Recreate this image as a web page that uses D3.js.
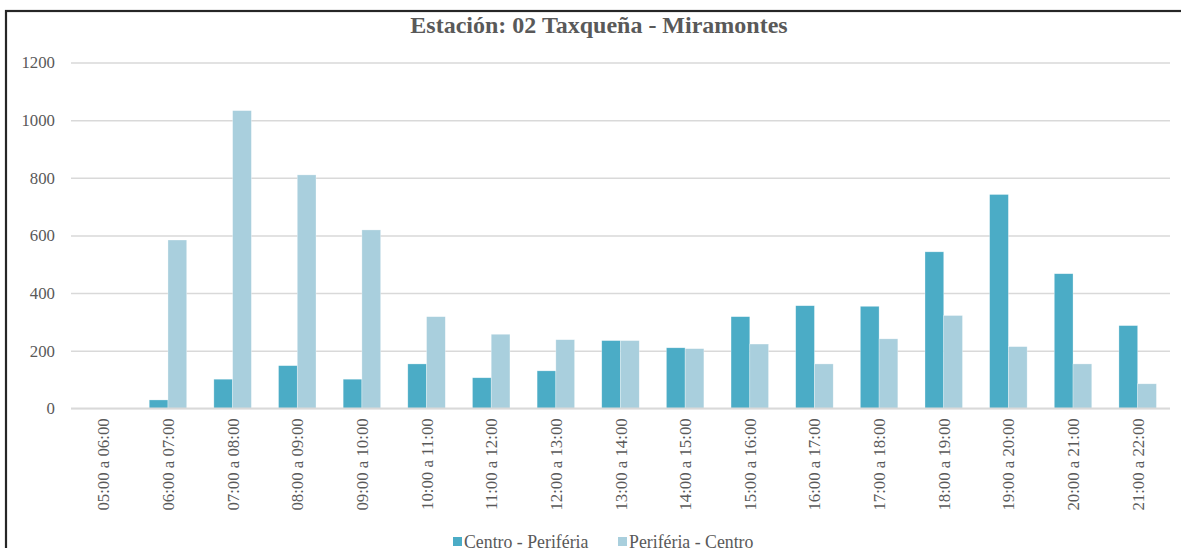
<!DOCTYPE html>
<html>
<head>
<meta charset="utf-8">
<script src="https://cdn.jsdelivr.net/npm/d3@7"></script>
<style>
  html, body { margin: 0; padding: 0; background: #fff; }
  svg { display: block; }
</style>
</head>
<body>
<svg id="chart" width="1181" height="548"></svg>
<script>
const categories = ["05:00 a 06:00","06:00 a 07:00","07:00 a 08:00","08:00 a 09:00","09:00 a 10:00","10:00 a 11:00","11:00 a 12:00","12:00 a 13:00","13:00 a 14:00","14:00 a 15:00","15:00 a 16:00","16:00 a 17:00","17:00 a 18:00","18:00 a 19:00","19:00 a 20:00","20:00 a 21:00","21:00 a 22:00"];
const centroPeriferia = [0, 29, 101, 148, 101, 154, 106, 130, 235, 210, 318, 356, 354, 543, 742, 467, 287];
const periferiaCentro = [0, 584, 1033, 810, 619, 318, 257, 238, 235, 207, 223, 154, 241, 322, 214, 154, 85];
const yTicks = [0, 200, 400, 600, 800, 1000, 1200];
const seriesNames = ["Centro - Periféria", "Periféria - Centro"];
const seriesColors = ["#4bacc6", "#a9cfdd"];
const titleText = "Estación: 02 Taxqueña - Miramontes";

(function () {
const svg = d3.select("#chart");
const font = "'Liberation Serif', 'Times New Roman', serif";
const textColor = "#595959";

const plotLeft = 71, plotRight = 1170, plotTop = 62.5, plotBottom = 408.3;

// frame
svg.append("rect").attr("x", 6).attr("y", 11).attr("width", 1200).attr("height", 600)
  .attr("fill", "none").attr("stroke", "#262626").attr("stroke-width", 2.2);

// title
svg.append("text").attr("x", 599).attr("y", 33).attr("text-anchor", "middle")
  .attr("font-family", font).attr("font-weight", "bold").attr("font-size", 24)
  .attr("fill", textColor).text(titleText);

const y = d3.scaleLinear().domain([0, 1200]).range([plotBottom, plotTop]);
const x0 = d3.scaleBand().domain(categories).range([plotLeft, plotRight]).paddingInner(0.42).paddingOuter(0.21);
const x1 = d3.scaleBand().domain(seriesNames).range([0, x0.bandwidth()]).padding(0);

// gridlines
const yAxis = d3.axisLeft(y).tickValues(yTicks).tickSize(-(plotRight - plotLeft)).tickPadding(16).tickFormat(d3.format("d"));
const gy = svg.append("g").attr("transform", `translate(${plotLeft},0)`).call(yAxis);
gy.select(".domain").remove();
gy.selectAll(".tick line").attr("stroke", "#d9d9d9").attr("stroke-width", 1.5);
gy.selectAll(".tick text").attr("font-family", font).attr("font-size", 16.8).attr("fill", textColor);

// bars
const data = categories.map((c, i) => ({ c, vals: [centroPeriferia[i], periferiaCentro[i]] }));
const groups = svg.append("g").selectAll("g").data(data).join("g")
  .attr("transform", d => `translate(${x0(d.c)},0)`);
groups.selectAll("rect").data(d => d.vals.map((v, k) => ({ v, k })))
  .join("rect")
  .attr("x", d => x1(seriesNames[d.k]))
  .attr("width", x1.bandwidth())
  .attr("y", d => y(d.v))
  .attr("height", d => plotBottom - y(d.v))
  .attr("fill", d => seriesColors[d.k])
  .attr("stroke", d => d.v > 0 ? "#ffffff" : "none")
  .attr("stroke-opacity", 0.5)
  .attr("stroke-width", 0.6);

// baseline
svg.append("line").attr("x1", plotLeft).attr("x2", plotRight).attr("y1", plotBottom).attr("y2", plotBottom)
  .attr("stroke", "#d9d9d9").attr("stroke-width", 1.8);

// x labels
const xAxis = d3.axisBottom(x0).tickSize(0).tickPadding(0);
const gx = svg.append("g").attr("transform", `translate(0,${plotBottom})`).call(xAxis);
gx.select(".domain").remove();
gx.selectAll(".tick text")
  .attr("font-family", font).attr("font-size", 16.8).attr("fill", textColor)
  .attr("text-anchor", "end").attr("dy", null)
  .attr("transform", "translate(6,10) rotate(-90)")
  .attr("x", 0).attr("y", 0);

// legend
const legend = svg.append("g");
const legendX = [453, 618];
seriesNames.forEach((name, k) => {
  legend.append("rect").attr("x", legendX[k]).attr("y", 537).attr("width", 9).attr("height", 9)
    .attr("fill", seriesColors[k]);
  legend.append("text").attr("x", legendX[k] + 11).attr("y", 548)
    .attr("font-family", font).attr("font-size", 17.8).attr("fill", textColor).text(name);
});
})();
</script>
</body>
</html>
